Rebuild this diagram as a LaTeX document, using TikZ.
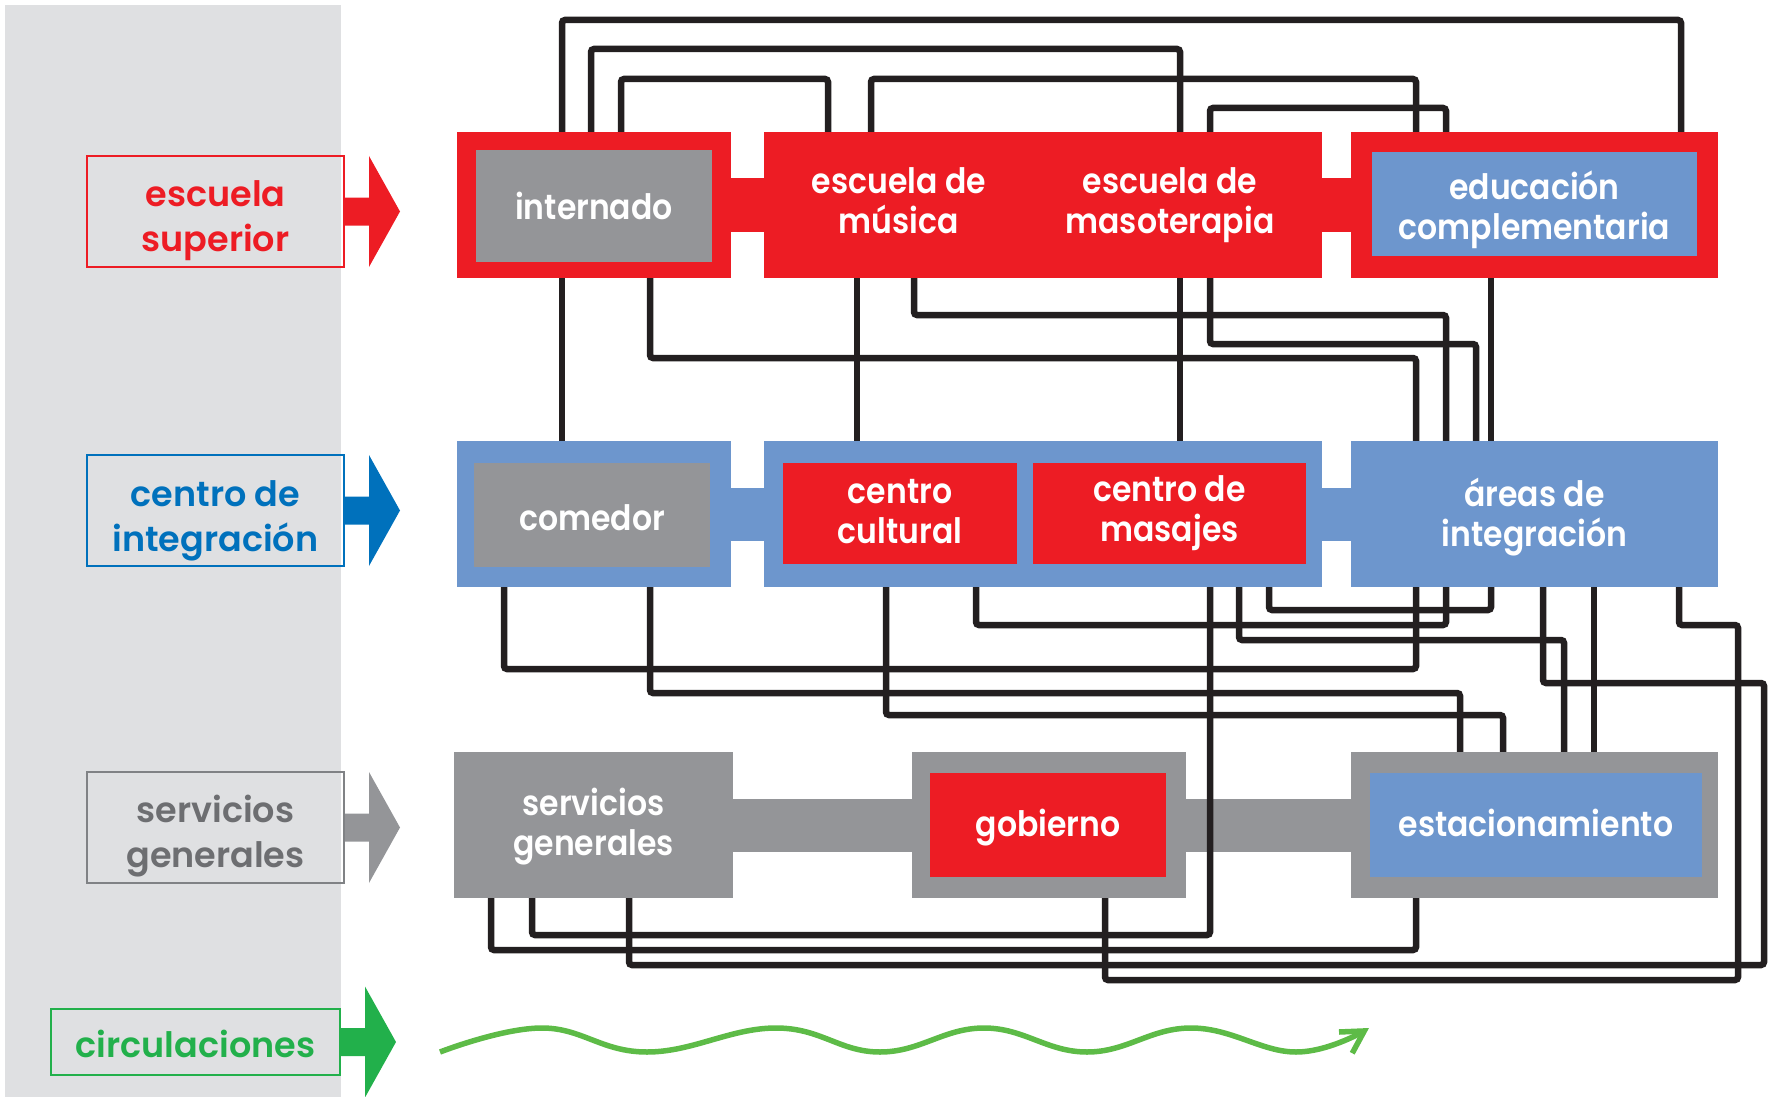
\documentclass[tikz,border=0pt]{standalone}
\usepackage{fontspec}
\newfontfamily\boxfont{Poppins}[FakeStretch=0.9, BoldFont={Poppins SemiBold}]
\newfontfamily\tagfont{Poppins}[BoldFont={Poppins SemiBold}]
\usetikzlibrary{arrows.meta}

\definecolor{esred}{HTML}{ED1C24}
\definecolor{ciblue}{HTML}{6D96CD}
\definecolor{sggray}{HTML}{949598}
\definecolor{panelgray}{HTML}{DFE0E2}
\definecolor{tagblue}{HTML}{0071BC}
\definecolor{taggray}{HTML}{6D6E71}
\definecolor{tagborder}{HTML}{808285}
\definecolor{taggreen}{HTML}{22B04B}
\definecolor{wavegreen}{HTML}{5DBB47}
\definecolor{linkblack}{HTML}{231F20}

\tikzset{
    zone/.style={rectangle, inner sep=0pt, minimum width=274pt, minimum height=146pt},
    room/.style={rectangle, inner sep=0pt, minimum height=104pt, text=white, align=center,
        font=\boxfont\bfseries\fontsize{35}{40}\selectfont},
    tag/.style={rectangle, draw=#1, line width=2pt, inner sep=0pt,
        minimum width=257pt, minimum height=111pt},
    tagtext/.style={text=#1, inner sep=0pt, align=center,
        font=\tagfont\bfseries\fontsize{35}{45}\selectfont},
    bar/.style={draw=#1, line width=53pt},
    link/.style={draw=linkblack, line width=6.5pt, rounded corners=3pt},
    wave/.style={draw=wavegreen, line width=5.5pt, -{Straight Barb[length=22pt, width=25pt]}}
}

\begin{document}
\begin{tikzpicture}[x=1pt, y=-1pt]
    \useasboundingbox (0,0) rectangle (1773,1097);
    \fill[panelgray] (5,5) rectangle (341,1097);

    % levels
    \node[tag=esred] (tagSup) at (215.5,211.5) {};
    \node[tag=tagblue] (tagInt) at (215.5,510.5) {};
    \node[tag=tagborder] (tagSer) at (215.5,827.5) {};
    \node[tag=taggreen, minimum width=289pt, minimum height=66pt] (tagCir) at (195.5,1042) {};
    \node[tagtext=esred] (tagSupT) at ([yshift=-9pt]tagSup) {escuela\\superior};
    \node[tagtext=tagblue] (tagIntT) at ([yshift=-10pt]tagInt) {centro de\\integración};
    \node[tagtext=taggray] (tagSerT) at ([yshift=-9pt]tagSer) {servicios\\generales};
    \node[tagtext=taggreen] (tagCirT) at ([yshift=-2pt]tagCir) {circulaciones};
    \foreach \t/\c in {tagSup/esred, tagInt/tagblue, tagSer/sggray, tagCir/taggreen}
        \fill[\c] (\t.east) ++(0,-14) -- ++(24,0) -- ++(0,-41.5) -- ++(31,55.5)
            -- ++(-31,55.5) -- ++(0,-41.5) -- ++(-24,0) -- cycle;

    % escuela superior
    \node[zone, fill=esred] (supA) at (594,205) {};
    \node[zone, fill=esred, minimum width=558pt] (supB) at (1043,205) {};
    \node[zone, fill=esred, minimum width=367pt] (supC) at (1534.5,205) {};
    \node[room, fill=sggray, minimum width=236pt, minimum height=111pt] (internado) at (594,206) {internado};
    \node[room] (musica) at (899,201) {escuela de\\música};
    \node[room] (masoterapia) at (1170,205) {escuela de\\masoterapia};
    \node[room, fill=ciblue, minimum width=325pt] (educacion) at (1534.5,204) {};
    \node[room] (educacionT) at (1534.5,210) {educación\\complementaria};
    \draw[bar=esred] (supA.east) -- (supB.west);
    \draw[bar=esred] (supB.east) -- (supC.west);

    % centro de integracion
    \node[zone, fill=ciblue] (intA) at (594,514) {};
    \node[zone, fill=ciblue, minimum width=558pt] (intB) at (1043,514) {};
    \node[room, fill=ciblue, minimum width=367pt, minimum height=146pt] (intC) at (1534.5,514) {};
    \node[room] (areas) at (1534.5,517) {áreas de\\integración};
    \node[room, fill=sggray, minimum width=236pt] (comedor) at (592,515) {};
    \node[room] (comedorT) at (592,518) {comedor};
    \node[room, fill=esred, minimum width=234pt, minimum height=101pt] (cultural) at (900,513.5) {};
    \node[room] (culturalT) at (900,511.5) {centro\\cultural};
    \node[room, fill=esred, minimum width=273pt, minimum height=101pt] (masajes) at (1169.5,513.5) {centro de\\masajes};
    \draw[bar=ciblue] (intA.east) -- (intB.west);
    \draw[bar=ciblue] (intB.east) -- (intC.west);

    % servicios generales
    \node[room, fill=sggray, minimum width=279pt, minimum height=146pt] (serA) at (593.5,825) {};
    \node[room] (serAT) at (593.5,827) {servicios\\generales};
    \node[zone, fill=sggray] (serB) at (1049,825) {};
    \node[zone, fill=sggray, minimum width=367pt] (serC) at (1534.5,825) {};
    \node[room, fill=esred, minimum width=236pt] (gobierno) at (1048,825) {};
    \node[room] (gobiernoT) at (1048,828) {gobierno};
    \node[room, fill=ciblue, minimum width=332pt] (estacionamiento) at (1536,825) {};
    \node[room] (estacionamientoT) at (1536,823) {estacionamiento};
    \draw[bar=sggray] (serA.east) -- (serB.west);
    \draw[bar=sggray] (serB.east) -- (serC.west);

    % links over the top row
    \draw[link] (supA.north -| 562,0) |- (1681,20) -- (supC.north -| 1681,0);
    \draw[link] (supA.north -| 591,0) |- (1180,49) -- (supB.north -| 1180,0);
    \draw[link] (supA.north -| 621,0) |- (828,79) -- (supB.north -| 828,0);
    \draw[link] (supB.north -| 871,0) |- (1416,79) -- (supC.north -| 1416,0);
    \draw[link] (supB.north -| 1210,0) |- (1446,108) -- (supC.north -| 1446,0);

    % top row to middle row
    \draw[link] (supA.south -| 562,0) -- (intA.north -| 562,0);
    \draw[link] (supA.south -| 650,0) |- (1416,358) -- (intC.north -| 1416,0);
    \draw[link] (supB.south -| 857,0) -- (intB.north -| 857,0);
    \draw[link] (supB.south -| 914,0) |- (1446,315) -- (intC.north -| 1446,0);
    \draw[link] (supB.south -| 1180,0) -- (intB.north -| 1180,0);
    \draw[link] (supB.south -| 1210,0) |- (1476,344) -- (intC.north -| 1476,0);
    \draw[link] (supC.south -| 1491,0) -- (intC.north -| 1491,0);

    % middle row to bottom row
    \draw[link] (intA.south -| 504,0) |- (1416,669) -- (intC.south -| 1416,0);
    \draw[link] (intA.south -| 650,0) |- (1460,693) -- (serC.north -| 1460,0);
    \draw[link] (intB.south -| 886,0) |- (1503,715) -- (serC.north -| 1503,0);
    \draw[link] (intB.south -| 976,0) |- (1446,625) -- (intC.south -| 1446,0);
    \draw[link] (intB.south -| 1210,0) |- (532,935) -- (serA.south -| 532,0);
    \draw[link] (intB.south -| 1239,0) |- (1564,640) -- (serC.north -| 1564,0);
    \draw[link] (intB.south -| 1269,0) |- (1491,610) -- (intC.south -| 1491,0);
    \draw[link] (intC.south -| 1543,0) |- (1764,683) |- (629,965) -- (serA.south -| 629,0);
    \draw[link] (intC.south -| 1679,0) |- (1738,625) |- (1105,980) -- (serB.south -| 1105,0);
    \draw[link] (intC.south -| 1594,0) -- (serC.north -| 1594,0);
    \draw[link] (serA.south -| 491,0) |- (1416,950) -- (serC.south -| 1416,0);

    % circulaciones
    \draw[wave] plot[smooth, tension=0.7] coordinates {(440,1052) (542,1028) (647,1052) (776,1028)
        (880,1052) (984,1028) (1087,1052) (1191,1028) (1296,1052) (1369,1028)};
\end{tikzpicture}
\end{document}
